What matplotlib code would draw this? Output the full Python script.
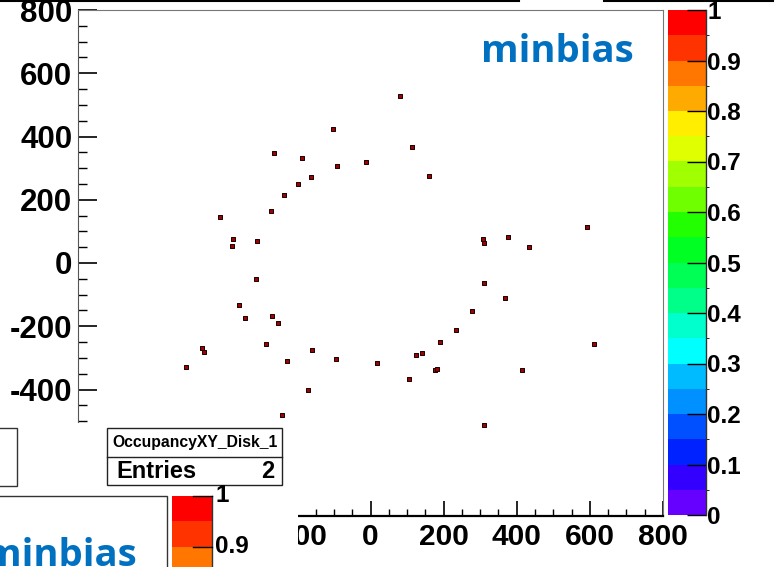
import numpy as np
import matplotlib
matplotlib.use("Agg")
import matplotlib.pyplot as plt
from matplotlib.patches import Rectangle
from matplotlib.lines import Line2D
from matplotlib.colors import ListedColormap, BoundaryNorm
from matplotlib.cm import ScalarMappable

# ---- data ----
x_hits = [80, -103, 114, -264, -187, -12, -92, -163, 160, -198, -237, -272, -412,
          -376, -379, -310, -313, 592, 308, 310, 376, 434, 310, 368, 278, 234, 190,
          141, 611, 176, 182, 414, 124, 105, -360, -343, -269, -253, -286, -461,
          -455, -505, -228, -160, -94, 18, -171, -242, 310]
y_hits = [528, 424, 367, 348, 332, 319, 307, 272, 275, 250, 215, 164, 145,
          76, 54, 70, -51, 114, 76, 63, 82, 51, -63, -111, -152, -212, -250,
          -285, -256, -338, -335, -338, -291, -367, -133, -174, -168, -190, -256, -269,
          -281, -329, -310, -275, -304, -316, -402, -481, -512]

axis_ticks = [-800, -600, -400, -200, 0, 200, 400, 600, 800]
# labels hidden behind the overlapping window in the screenshot are left blank
x_tick_labels = ["", "", "", "-200", "0", "200", "400", "600", "800"]
y_tick_labels = ["", "", "-400", "-200", "0", "200", "400", "600", "800"]
cbar_ticks = [0, 0.1, 0.2, 0.3, 0.4, 0.5, 0.6, 0.7, 0.8, 0.9, 1.0]
cbar_labels = ["0", "0.1", "0.2", "0.3", "0.4", "0.5", "0.6", "0.7", "0.8", "0.9", "1"]
palette = ["#6600ff", "#3300ff", "#0022ff", "#0050ff", "#0090ff", "#00bbff",
           "#00ffff", "#00ffcc", "#00ff88", "#00ff55", "#00ff22", "#22ff00",
           "#70ff00", "#a0ff00", "#e0ff00", "#ffee00", "#ffaa00", "#ff7700",
           "#ff3300", "#ff0000"]
hist_name = "OccupancyXY_Disk_1"
entries = "2"
label = "minbias"

W, H = 780, 567
plt.rcParams['font.family'] = ['Liberation Sans', 'DejaVu Sans']
fig = plt.figure(figsize=(W / 100, H / 100), dpi=100)
fig.patch.set_facecolor("white")


def fx(px):
    return px / W


def fy(py):
    return 1 - py / H


def box(x0, y0, x1, y1, fc="white", ec="none", lw=1.0, z=5):
    r = Rectangle((fx(x0), fy(y1)), (x1 - x0) / W, (y1 - y0) / H,
                  transform=fig.transFigure, facecolor=fc, edgecolor=ec,
                  linewidth=lw, zorder=z)
    fig.add_artist(r)


def hline(x0, x1, y, c="black", lw=1.0, z=6):
    fig.add_artist(Line2D([fx(x0), fx(x1)], [fy(y), fy(y)], transform=fig.transFigure,
                          color=c, lw=lw, zorder=z))


def vline(x, y0, y1, c="black", lw=1.0, z=6):
    fig.add_artist(Line2D([fx(x), fx(x)], [fy(y0), fy(y1)], transform=fig.transFigure,
                          color=c, lw=lw, zorder=z))


# ---- main axes ----
ax = fig.add_axes([fx(78), fy(516), (663 - 78) / W, (516 - 10) / H])
ax.set_xlim(-800, 800)
ax.set_ylim(-800, 800)
ax.scatter(x_hits, y_hits, marker="s", s=6, facecolor="#a00000",
           edgecolor="#1a0000", linewidths=0.7, zorder=3)
ax.set_xticks(axis_ticks)
ax.set_yticks(axis_ticks)
ax.set_xticklabels(x_tick_labels)
ax.set_yticklabels(y_tick_labels)
ax.set_xticks(np.arange(-800, 801, 50), minor=True)
ax.set_yticks(np.arange(-800, 801, 50), minor=True)
ax.tick_params(axis="x", which="major", direction="in", length=10.8, width=1.2,
               labelsize=21.5, pad=5, top=False)
ax.tick_params(axis="x", which="minor", direction="in", length=5.0, width=1.0, top=False)
ax.tick_params(axis="y", which="major", direction="in", length=13.7, width=1.2,
               labelsize=22.5, pad=4, right=False)
ax.tick_params(axis="y", which="minor", direction="in", length=6.8, width=1.0, right=False)
for t in ax.get_xticklabels() + ax.get_yticklabels():
    t.set_fontweight("bold")
ax.spines["top"].set_color("#777777")
ax.spines["right"].set_color("#777777")
ax.spines["left"].set_color("#555555")
ax.spines["bottom"].set_color("black")
ax.spines["bottom"].set_linewidth(1.6)

# ---- main colour bar ----
cmap = ListedColormap(palette)
norm = BoundaryNorm(np.linspace(0, 1, len(palette) + 1), cmap.N)
cax = fig.add_axes([fx(668), fy(515), (706 - 668) / W, (515 - 10) / H])
cb = fig.colorbar(ScalarMappable(norm=norm, cmap=cmap), cax=cax)
cb.outline.set_visible(False)
cb.set_ticks(cbar_ticks)
cb.set_ticklabels(cbar_labels)
cax.tick_params(direction="in", length=13.7, width=1.0, labelsize=17.5, pad=1)
for t in cax.get_yticklabels():
    t.set_fontweight("bold")
vline(706, 10, 515, c="#333333", lw=1.0)

fig.text(fx(481), fy(62), label, ha="left", va="baseline", fontsize=27.5,
         fontweight="bold", family=["Open Sans", "DejaVu Sans"], color="#0070c0")

# ---- overlapping panels from the screenshot ----
box(0, 423, 298, 567, fc="white", z=4)
# top border lines
box(0, 0, 520, 1.5, fc="white", z=4)
hline(0, 519, 1, lw=1.5)
hline(604, 773, 1, lw=1.5)

# left partial box
box(-5, 428, 17, 486, fc="white", ec="#333333", lw=1.0, z=5)

# stats box
box(107, 428, 282, 485, fc="white", ec="#222222", lw=1.0, z=5)
hline(107, 282, 457, c="#222222", lw=1.0)
fig.text(fx(195), fy(443), hist_name, ha="center", va="center", fontsize=11.3,
         fontweight="bold", color="black", zorder=7)
fig.text(fx(116), fy(471), "Entries", ha="left", va="center", fontsize=17,
         fontweight="bold", color="black", zorder=7)
fig.text(fx(274), fy(471), entries, ha="right", va="center", fontsize=17,
         fontweight="bold", color="black", zorder=7)

# lower-left panel with label
box(-5, 496, 167, 575, fc="white", ec="#333333", lw=1.0, z=5)
fig.text(fx(-16), fy(566), label, ha="left", va="baseline", fontsize=27.5,
         fontweight="bold", family=["Open Sans", "DejaVu Sans"], color="#0070c0",
         zorder=7)

# lower colour bar fragment
band_h = 506 / 20
top = 496
for i, col in enumerate(reversed(palette[-3:])):
    y0 = top + i * band_h
    y1 = min(top + (i + 1) * band_h, 567)
    box(172, y0, 212, y1, fc=col, z=5)
vline(212, 496, 567, c="#333333", lw=1.0)
for val, lab in [(1.0, "1"), (0.9, "0.9")]:
    yy = top + (1.0 - val) * 506
    hline(193, 212, yy, c="black", lw=1.0)
    fig.text(fx(215), fy(yy), lab, ha="left", va="center", fontsize=17.5,
             fontweight="bold", color="black", zorder=7)

fig.savefig("out.png", dpi=100, facecolor="white")
